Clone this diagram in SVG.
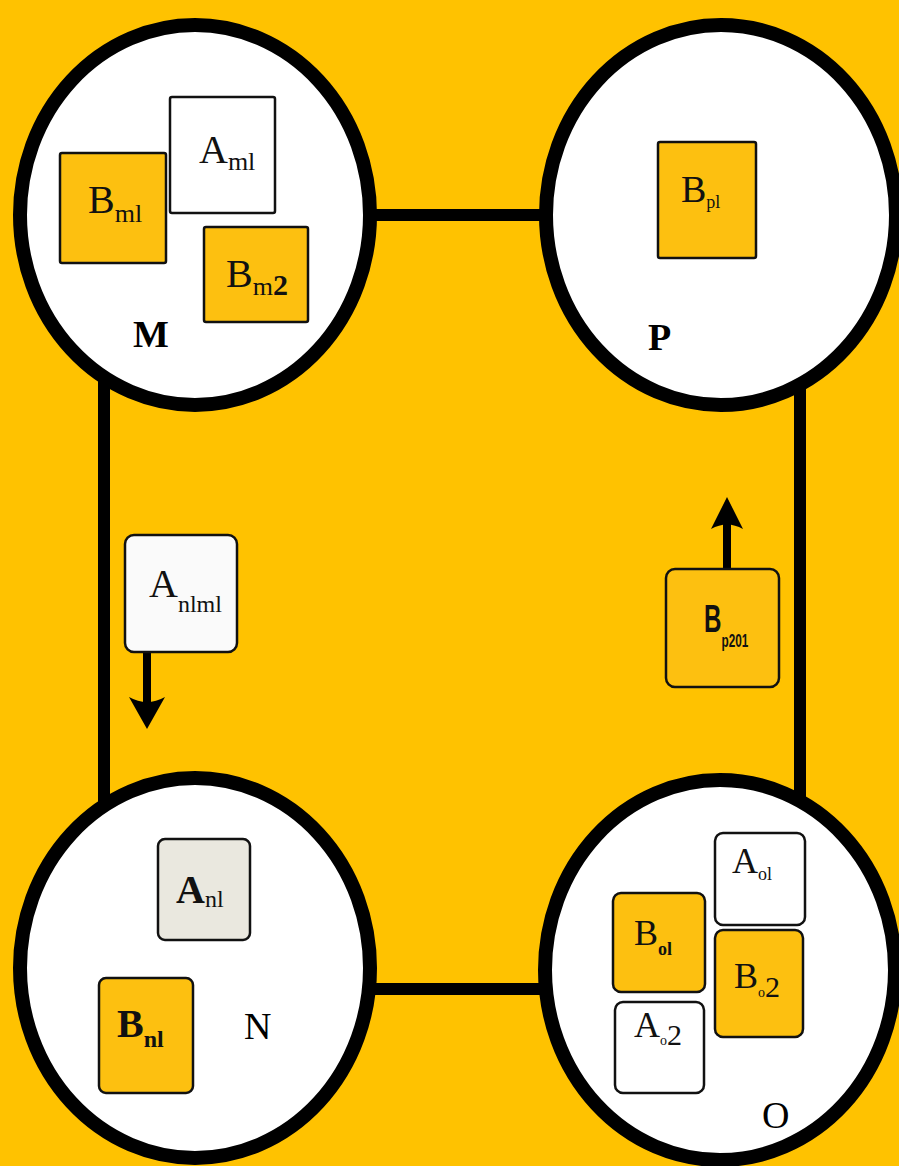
<svg xmlns="http://www.w3.org/2000/svg" width="899" height="1166" viewBox="0 0 899 1166">
<style>
.circ{fill:#fff;stroke:#000;stroke-width:14}
.con{stroke:#000;stroke-width:12;fill:none}
.bo{fill:#FDC010;stroke:#111;stroke-width:2.5}
.bw{fill:#fff;stroke:#111;stroke-width:2.5}
.t{font-family:"Liberation Serif","Times New Roman",serif;fill:#111}
.lab{font-family:"Liberation Serif","Times New Roman",serif;fill:#000;font-size:38px}
.cond{font-family:"Liberation Sans","Arial",sans-serif;font-weight:bold;fill:#111}
</style>
<rect x="0" y="0" width="899" height="1166" fill="#FFC200"/>
<g id="connectors">
<line class="con" x1="370" y1="215" x2="548" y2="215"/>
<line class="con" x1="104" y1="370" x2="104" y2="815"/>
<line class="con" x1="800" y1="370" x2="800" y2="815"/>
<line class="con" x1="370" y1="989" x2="548" y2="989"/>
<line stroke="#000" stroke-width="8" x1="147" y1="652" x2="147" y2="712"/>
<path d="M147,729 L129,697 Q147,707 165,697 Z" fill="#000"/>
<line stroke="#000" stroke-width="8" x1="727" y1="569" x2="727" y2="522"/>
<path d="M727,497 L711,529 Q727,520 743,529 Z" fill="#000"/>
</g>
<g id="M">
<ellipse class="circ" cx="195" cy="215" rx="175" ry="190"/>
<rect class="bo" x="60" y="153" width="106" height="110" rx="2"/>
<text class="t" x="88" y="213" font-size="40">B<tspan font-size="26" dy="9">ml</tspan></text>
<rect class="bw" x="170" y="97" width="105" height="116" rx="2"/>
<text class="t" x="199" y="163" font-size="40">A<tspan font-size="26" dy="7">ml</tspan></text>
<rect class="bo" x="204" y="227" width="104" height="95" rx="2"/>
<text class="t" x="226" y="287" font-size="40">B<tspan font-size="26" dy="8">m</tspan><tspan font-size="30" font-weight="bold">2</tspan></text>
<text class="lab" x="133" y="347" font-weight="bold">M</text>
</g>
<g id="P">
<ellipse class="circ" cx="721" cy="215" rx="175" ry="190"/>
<rect class="bo" x="658" y="142" width="98" height="116" rx="2"/>
<text class="t" x="681" y="202" font-size="38">B<tspan font-size="18" dy="6">pl</tspan></text>
<text class="lab" x="648" y="350" font-weight="bold">P</text>
</g>
<g id="N">
<ellipse class="circ" cx="195" cy="968" rx="175" ry="190"/>
<rect x="158" y="839" width="92" height="101" rx="7" fill="#EAE8DF" stroke="#111" stroke-width="2.5"/>
<text class="t" x="176" y="903" font-size="40" font-weight="bold">A<tspan font-size="24" font-weight="normal" dy="4">nl</tspan></text>
<rect class="bo" x="99" y="978" width="94" height="115" rx="7"/>
<text class="t" x="117" y="1037" font-size="40" font-weight="bold">B<tspan font-size="24" dy="10">nl</tspan></text>
<text class="lab" x="244" y="1039">N</text>
</g>
<g id="O">
<ellipse class="circ" cx="720" cy="970" rx="175" ry="190"/>
<rect class="bw" x="715" y="833" width="90" height="92" rx="8"/>
<text class="t" x="732" y="873" font-size="36">A<tspan font-size="18" dy="7">ol</tspan></text>
<rect class="bo" x="613" y="893" width="92" height="99" rx="8"/>
<text class="t" x="634" y="945" font-size="36">B<tspan font-size="18" font-weight="bold" dy="10">ol</tspan></text>
<rect class="bo" x="715" y="930" width="88" height="107" rx="8"/>
<text class="t" x="734" y="988" font-size="36">B<tspan font-size="14" dy="9">o</tspan><tspan font-size="30">2</tspan></text>
<rect class="bw" x="615" y="1002" width="89" height="91" rx="8"/>
<text class="t" x="634" y="1037" font-size="36">A<tspan font-size="14" dy="8">o</tspan><tspan font-size="30">2</tspan></text>
<text class="lab" x="762" y="1128" font-size="36">O</text>
</g>
<g id="Anlml">
<rect x="125" y="535" width="112" height="117" rx="9" fill="#FAFAFA" stroke="#111" stroke-width="2.5"/>
<text class="t" x="149" y="597" font-size="40">A<tspan font-size="24" dy="15">nlml</tspan></text>
</g>
<g id="Bp201">
<rect class="bo" x="666" y="569" width="113" height="118" rx="9"/>
<text class="cond" transform="translate(704,632) scale(0.62,1)" x="0" y="0" font-size="39">B<tspan font-size="19" dy="15">p201</tspan></text>
</g>
</svg>
